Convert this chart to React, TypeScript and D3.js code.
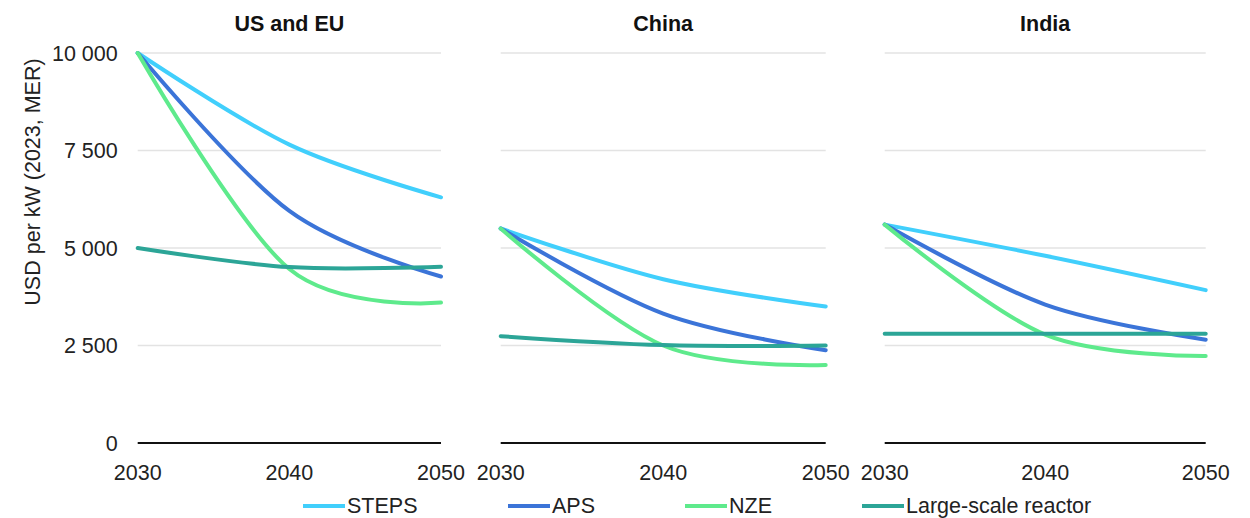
import React from 'react';
import * as d3 from 'd3';

const years = [2030, 2040, 2050];
const regions = ['US and EU', 'China', 'India'];
const seriesNames = ['STEPS', 'APS', 'NZE', 'Large-scale reactor'];
const stepsValues = [[10000, 7650, 6300], [5500, 4200, 3500], [5600, 4800, 3920]];
const apsValues = [[10000, 5950, 4270], [5500, 3320, 2380], [5600, 3550, 2650]];
const nzeValues = [[10000, 4460, 3600], [5500, 2500, 2000], [5600, 2780, 2230]];
const reactorValues = [[5000, 4510, 4520], [2740, 2510, 2500], [2800, 2800, 2800]];
const yTicks = [0, 2500, 5000, 7500, 10000];
const xTicks = [2030, 2040, 2050];
const yLabel = 'USD per kW (2023, MER)';

const colors = ['#41CFFC', '#3B74D8', '#5EEA8C', '#2CA597'];
const panelRanges: [number, number][] = [[137.7, 441], [500.7, 825.7], [884.7, 1205.7]];
const legendX = [303, 508, 685, 862];
const FONT = 'Arial, "Liberation Sans", Helvetica, sans-serif';

export default function App() {
  const y = d3.scaleLinear().domain([0, 10000]).range([443, 53]);
  const fmt = (v: number) => d3.format(',')(v).replace(/,/g, ' ');
  const allSeries = [stepsValues, apsValues, nzeValues, reactorValues];

  return (
    <svg width={1250} height={518} style={{ position: 'absolute', left: 0, top: 0, background: '#fff' }} fontFamily={FONT}>
      <text transform={`translate(33,182) rotate(-90)`} textAnchor="middle" dominantBaseline="central" fontSize={21.5} fill="#222">{yLabel}</text>
      {yTicks.map(t => (
        <text key={t} x={117.7} y={y(t)} dy="0.36em" textAnchor="end" fontSize={21.5} fill="#222">{fmt(t)}</text>
      ))}
      {regions.map((r, pi) => {
        const x = d3.scaleLinear().domain([2030, 2050]).range(panelRanges[pi]);
        const line = d3.line<[number, number]>()
          .x(d => x(d[0]))
          .y(d => y(d[1]))
          .curve(d3.curveCardinal.tension(0));
        const [x0, x1] = panelRanges[pi];
        return (
          <g key={r}>
            <text x={(x0 + x1) / 2} y={31} textAnchor="middle" fontSize={21.5} fontWeight="bold" fill="#111">{r}</text>
            {yTicks.filter(t => t > 0).map(t => (
              <line key={t} x1={x0} x2={x1} y1={y(t)} y2={y(t)} stroke="#E3E3E3" strokeWidth={1.5} />
            ))}
            <line x1={x0} x2={x1} y1={y(0)} y2={y(0)} stroke="#111" strokeWidth={2} />
            {xTicks.map(t => (
              <text key={t} x={x(t)} y={480} textAnchor="middle" fontSize={21.5} fill="#222">{t}</text>
            ))}
            {allSeries.map((s, si) => (
              <path key={si} d={line(years.map((yr, i) => [yr, s[pi][i]] as [number, number])) || ''}
                fill="none" stroke={colors[si]} strokeWidth={4} strokeLinecap="round" />
            ))}
          </g>
        );
      })}
      {seriesNames.map((n, i) => (
        <g key={n}>
          <line x1={legendX[i]} x2={legendX[i] + 42} y1={506} y2={506} stroke={colors[i]} strokeWidth={4} />
          <text x={legendX[i] + 44} y={513} fontSize={21.5} fill="#222">{n}</text>
        </g>
      ))}
    </svg>
  );
}
